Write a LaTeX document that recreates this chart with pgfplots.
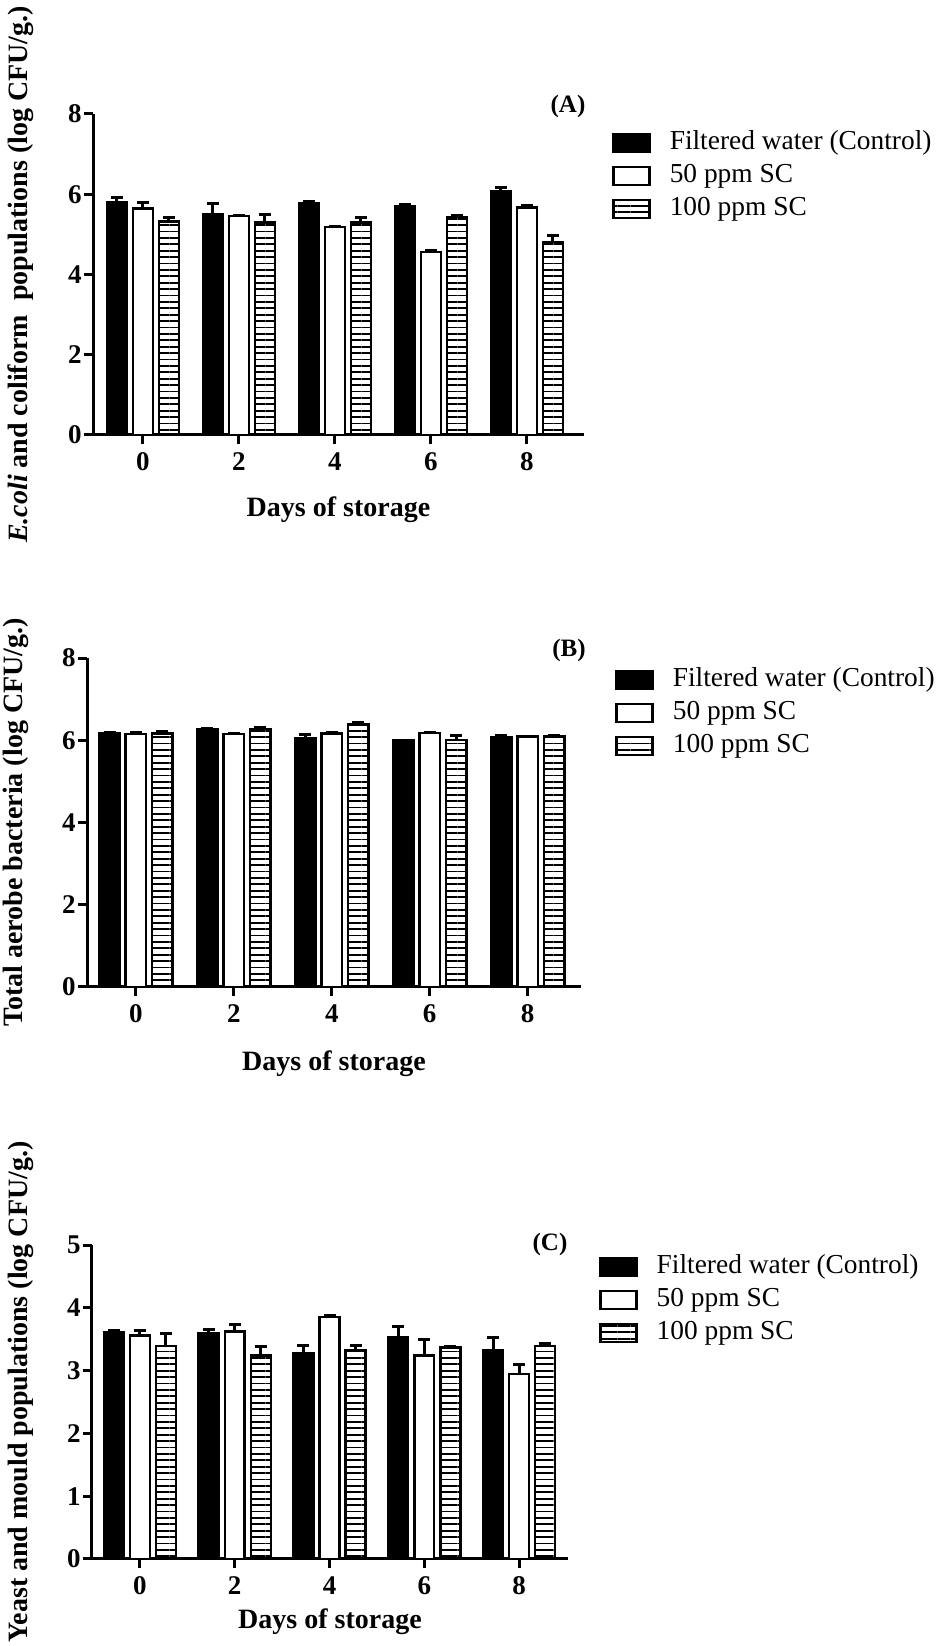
\documentclass[border=0pt]{standalone}
\usepackage{pgfplots}
\pgfplotsset{compat=1.18}
\usepackage{pgfplotstable}
\usepackage{fontspec}
\setmainfont{Liberation Serif}
\usetikzlibrary{patterns.meta}

\pgfplotstableread{
x a ea b eb c ec
0 5.79 0.14 5.64 0.15 5.32 0.10
2 5.51 0.26 5.46 0.02 5.30 0.20
4 5.78 0.03 5.18 0.02 5.30 0.12
6 5.71 0.03 4.56 0.04 5.43 0.03
8 6.07 0.11 5.67 0.06 4.81 0.16
}\dataA

\pgfplotstableread{
x a ea b eb c ec
0 6.16 0.02 6.15 0.03 6.16 0.06
2 6.27 0.02 6.15 0.02 6.28 0.02
4 6.04 0.09 6.16 0.03 6.38 0.04
6 5.99 0.01 6.17 0.03 6.01 0.10
8 6.07 0.04 6.09 0.01 6.09 0.02
}\dataB

\pgfplotstableread{
x a ea b eb c ec
0 3.61 0.03 3.56 0.08 3.39 0.20
2 3.59 0.07 3.62 0.11 3.24 0.15
4 3.27 0.13 3.85 0.03 3.32 0.08
6 3.53 0.17 3.24 0.25 3.37 0.02
8 3.33 0.19 2.95 0.14 3.39 0.04
}\dataC

\pgfplotsset{
  panel/.style={
    scale only axis,
    axis x line=bottom, axis y line=left,
    axis line style={line width=1.5pt,-},
    tick style={line width=1.5pt,black},
    major tick length=4.5pt, tick align=outside,
    xtick={0,2,4,6,8}, ymin=0, enlargelimits=false,
    /pgf/number format/assume math mode=true,
    ticklabel style={font=\fontsize{13.5}{15}\selectfont\bfseries},
    xticklabel style={inner sep=4pt},
    yticklabel style={inner sep=1pt},
    label style={font=\fontsize{14}{16}\selectfont\bfseries},
    clip=false,
    legend style={draw=none, fill=none, inner sep=0pt, anchor=north west,
      legend cell align=left, font=\fontsize{13.7}{15}\selectfont,
      row sep=3pt,
      nodes={inner sep=0pt, text height=10pt, text depth=3.5pt},
      /tikz/every odd column/.append style={column sep=9.5pt}},
    legend image code/.code={\draw[##1] (0pt,-4.5pt) rectangle (18pt,4.5pt);},
  },
  ebars/.style={error bars/.cd, y dir=plus, y explicit,
    error bar style={line width=1.5pt,black,solid},
    error mark options={rotate=90,mark size=3pt,line width=1.5pt,black}},
  sblack/.style={ybar, bar width=0.42, bar shift=0pt, draw=black, fill=black, line width=1.2pt, ebars},
  swhite/.style={ybar, bar width=0.42, bar shift=0pt, draw=black, fill=white, line width=1.2pt, ebars},
  shatch/.style={ybar, bar width=0.42, bar shift=0pt, draw=black,
    pattern={Lines[angle=0,distance=3.2pt,line width=0.9pt]}, pattern color=black, line width=1.2pt, ebars},
}

\begin{document}
\begin{tikzpicture}
\useasboundingbox (0,0) rectangle (470.5pt,823pt);

% Panel A
\begin{axis}[panel, at={(46.5pt,605.5pt)}, anchor=south west,
  width=245.5pt, height=160.5pt,
  xmin=-1.04, xmax=9.19, ymax=8, ytick={0,2,4,6,8},
  xlabel={Days of storage},
  ylabel={\textit{E.coli} and coliform\ \ populations (log CFU/g.)},
  xlabel style={at={(axis description cs:0.5,-0.2336)}, anchor=center},
  ylabel style={at={(axis description cs:-0.1466,0.5)}, anchor=center},
  legend style={at={(1.057,0.953)}}]
\addplot[sblack] table[x expr=\thisrow{x}-0.54, y=a, y error=ea] {\dataA};
\addplot[swhite] table[x expr=\thisrow{x}, y=b, y error=eb] {\dataA};
\addplot[shatch] table[x expr=\thisrow{x}+0.54, y=c, y error=ec] {\dataA};
\legend{Filtered water (Control), 50 ppm SC, 100 ppm SC}
\end{axis}
\node[font=\fontsize{12.5}{14}\selectfont\bfseries] at (284pt,770pt) {(A)};

% Panel B
\begin{axis}[panel, at={(43.5pt,329.5pt)}, anchor=south west,
  width=247pt, height=164.5pt,
  xmin=-1.0, xmax=9.09, ymax=8, ytick={0,2,4,6,8},
  xlabel={Days of storage},
  ylabel={Total aerobe bacteria (log CFU/g.)},
  xlabel style={at={(axis description cs:0.5,-0.234)}, anchor=center},
  ylabel style={at={(axis description cs:-0.1437,0.5)}, anchor=center},
  legend style={at={(1.069,0.976)}}]
\addplot[sblack] table[x expr=\thisrow{x}-0.54, y=a, y error=ea] {\dataB};
\addplot[swhite] table[x expr=\thisrow{x}, y=b, y error=eb] {\dataB};
\addplot[shatch] table[x expr=\thisrow{x}+0.54, y=c, y error=ec] {\dataB};
\legend{Filtered water (Control), 50 ppm SC, 100 ppm SC}
\end{axis}
\node[font=\fontsize{12.5}{14}\selectfont\bfseries] at (284.5pt,498pt) {(B)};

% Panel C
\begin{axis}[panel, at={(46pt,43.5pt)}, anchor=south west,
  width=238pt, height=157pt,
  xmin=-1.01, xmax=9.03, ymax=5, ytick={0,1,2,3,4,5},
  xlabel={Days of storage},
  ylabel={Yeast and mould populations (log CFU/g.)},
  xlabel style={at={(axis description cs:0.5,-0.2006)}, anchor=center},
  ylabel style={at={(axis description cs:-0.149,0.532)}, anchor=center},
  legend style={at={(1.065,0.975)}}]
\addplot[sblack] table[x expr=\thisrow{x}-0.55, y=a, y error=ea] {\dataC};
\addplot[swhite] table[x expr=\thisrow{x}, y=b, y error=eb] {\dataC};
\addplot[shatch] table[x expr=\thisrow{x}+0.55, y=c, y error=ec] {\dataC};
\legend{Filtered water (Control), 50 ppm SC, 100 ppm SC}
\end{axis}
\node[font=\fontsize{12.5}{14}\selectfont\bfseries] at (275pt,201pt) {(C)};
\end{tikzpicture}
\end{document}
